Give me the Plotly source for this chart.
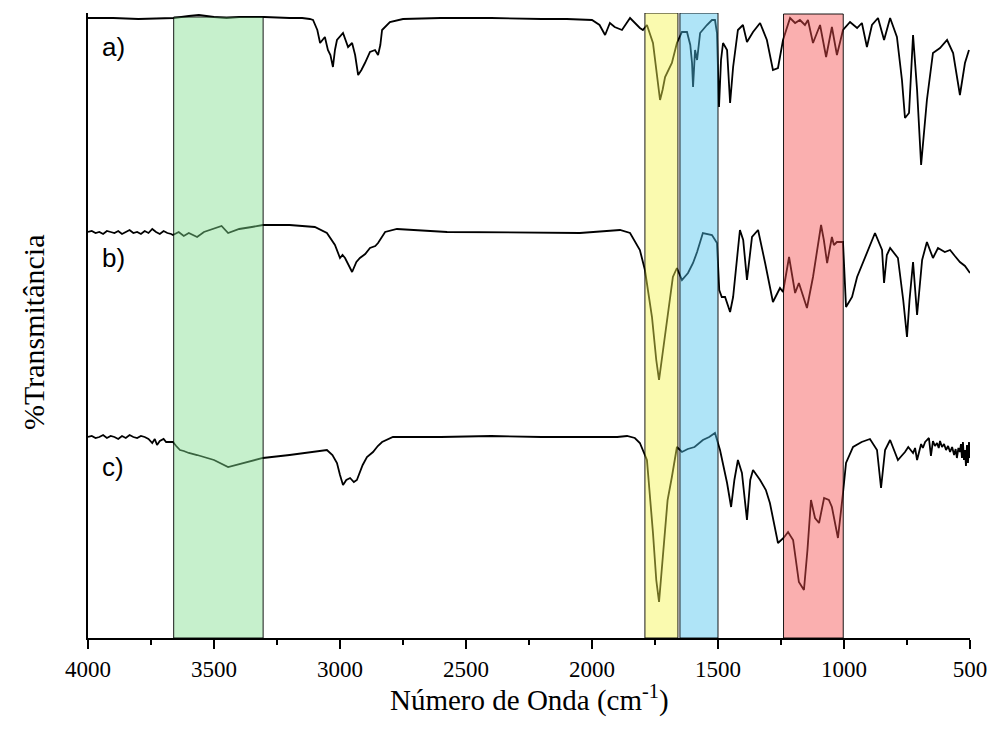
import plotly.graph_objects as go

# FTIR spectra (transmittance, offset per sample, arbitrary units)
wn_a = [4000, 3900, 3800, 3700, 3660, 3600, 3560, 3500, 3450, 3400, 3300, 3200, 3150, 3120,
        3107, 3090, 3079, 3060, 3048, 3038, 3028, 3020, 3012, 2988,
        2968, 2952, 2940, 2928, 2915, 2901, 2881, 2861, 2849, 2840,
        2833, 2802, 2750, 2600, 2400, 2200, 2100, 2000, 1970, 1948,
        1929, 1910, 1881, 1849, 1810, 1798, 1782, 1758, 1740, 1730,
        1720, 1710, 1683, 1663, 1643, 1623, 1610, 1603, 1599, 1591,
        1583, 1571, 1544, 1524, 1512, 1504, 1496, 1488, 1480, 1464,
        1452, 1440, 1421, 1401, 1385, 1361, 1333, 1306, 1282, 1262,
        1242, 1214, 1194, 1175, 1155, 1143, 1123, 1095, 1071, 1048,
        1028, 1004, 976, 948, 929, 909, 889, 865, 841, 817,
        790, 770, 758, 742, 726, 710, 694, 671, 647, 619,
        591, 567, 540, 520, 504]
t_a = [620, 620, 619, 620, 620, 622, 623, 621, 620, 621, 621, 620, 620, 619,
       618, 608, 595, 601, 588, 583, 571, 588, 598, 605,
       591, 595, 583, 563, 568, 575, 586, 588, 583, 593,
       608, 616, 619, 620, 620, 619, 619, 618, 613, 603,
       615, 611, 608, 620, 610, 608, 613, 595, 558, 538,
       548, 561, 575, 595, 606, 606, 593, 575, 551, 588,
       578, 605, 613, 618, 618, 605, 531, 578, 595, 588,
       535, 571, 608, 613, 596, 606, 615, 598, 568, 570,
       598, 620, 615, 618, 613, 618, 595, 613, 581, 611,
       583, 608, 616, 610, 615, 591, 613, 620, 598, 620,
       601, 558, 520, 525, 603, 548, 473, 538, 585, 590,
       598, 585, 543, 575, 588]

wn_b = [4000, 3985, 3970, 3955, 3940, 3925, 3910, 3895, 3880, 3865,
        3850, 3835, 3820, 3805, 3790, 3775, 3760, 3745, 3730, 3715,
        3700, 3685, 3670,
        3663, 3640, 3620, 3600, 3567, 3540, 3500, 3470, 3444, 3400,
        3350, 3306, 3200, 3100, 3052, 3020, 3000, 2990, 2980, 2965,
        2952, 2935, 2921, 2900, 2881, 2860, 2849, 2821, 2774, 2575,
        2048, 1889, 1849, 1810, 1790, 1762, 1745, 1734, 1720, 1702,
        1679, 1663, 1643, 1619, 1599, 1583, 1560, 1524, 1504, 1495,
        1485, 1472, 1452, 1440, 1425, 1413, 1400, 1385, 1365, 1341,
        1313, 1282, 1254, 1242, 1218, 1194, 1179, 1147, 1123, 1091,
        1080, 1067, 1048, 1040, 1028, 1004, 992, 968, 948, 917,
        877, 849, 841, 830, 817, 786, 765, 750, 740, 726,
        710, 690, 671, 647, 627, 600, 579, 560, 540, 520,
        500]
t_b = [406, 407, 405, 406, 404, 407, 406, 405, 407, 404,
       406, 408, 405, 406, 404, 407, 405, 409, 406, 404,
       407, 405, 404,
       403, 406, 402, 405, 401, 406, 409, 412, 405, 409,
       411, 413, 413, 411, 405, 393, 380, 383, 380, 372,
       366, 376, 380, 384, 390, 392, 395, 406, 409, 406,
       405, 408, 405, 388, 368, 321, 278, 258, 283, 318,
       361, 370, 358, 365, 375, 386, 405, 403, 395, 348,
       341, 341, 326, 341, 378, 408, 398, 358, 401, 408,
       375, 336, 350, 346, 381, 345, 355, 330, 361, 413,
       398, 375, 401, 393, 396, 396, 331, 341, 361, 380,
       405, 388, 355, 383, 390, 380, 338, 301, 338, 376,
       323, 378, 396, 380, 390, 386, 388, 382, 376, 372,
       365]

wn_c = [4000, 3985, 3970, 3955, 3940, 3925, 3910, 3895, 3880, 3865,
        3850, 3835, 3820, 3805, 3790, 3775, 3760,
        3745, 3735, 3726, 3715, 3700, 3690, 3663, 3650, 3635, 3620, 3600, 3567,
        3500, 3444, 3400, 3306, 3200, 3100, 3052, 3030, 3012, 3000,
        2988, 2975, 2960, 2945, 2933, 2910, 2893, 2869, 2850, 2833,
        2790, 2600, 2400, 2200, 2000, 1900, 1861, 1830, 1810, 1782,
        1758, 1745, 1734, 1725, 1712, 1700, 1683, 1663, 1643, 1620,
        1593, 1575, 1560, 1535, 1512, 1492, 1464, 1448, 1435, 1421,
        1405, 1385, 1372, 1361, 1333, 1310, 1294, 1262, 1240, 1222,
        1202, 1179, 1159, 1145, 1131, 1115, 1099, 1079, 1060, 1048,
        1024, 1004, 992, 964, 930, 897, 869, 853, 837,
        817, 800, 786, 772, 758, 745, 738, 726, 718, 710,
        702, 694, 687, 678, 671, 663, 655, 647, 639, 631,
        624, 619, 611, 603, 595, 587, 579, 571, 563, 557,
        552, 546, 540, 536, 532, 528, 524, 520, 516, 512,
        508, 504, 500]
t_c = [201, 202, 200, 201, 203, 200, 202, 201, 199, 202,
       200, 203, 201, 200, 202, 201, 199,
       195, 199, 193, 197, 199, 196, 196, 192, 188, 187, 185, 183,
       178, 171, 174, 180, 183, 186, 188, 183, 175, 163,
       153, 158, 160, 156, 158, 173, 181, 186, 192, 196,
       201, 201, 202, 201, 201, 201, 202, 200, 195, 178,
       105, 58, 36, 63, 105, 138, 161, 191, 186, 189,
       191, 195, 198, 201, 205, 188, 155, 131, 158, 178,
       165, 118, 158, 168, 158, 148, 135, 95, 100, 106,
       98, 56, 48, 88, 138, 120, 115, 140, 138, 131,
       100, 145, 175, 191, 196, 199, 188, 150, 188,
       198, 186, 178, 182, 186, 191, 189, 185, 190, 178,
       186, 194, 190, 196, 198, 200, 182, 197, 192, 195,
       190, 197, 191, 194, 188, 192, 186, 191, 183, 189,
       180, 190, 186, 194, 180, 196, 178, 188, 172, 193,
       175, 196, 180]

series_labels = ["a)", "b)", "c)"]
label_wn = [3900, 3900, 3900]
label_t = [591, 380, 171]

# highlighted absorption bands (cm-1)
band_start = [3660, 1790, 1651, 1240]
band_end = [3305, 1659, 1500, 1003]
band_top = [621, 625, 625, 624]
band_colors = ["rgba(129,222,142,0.45)", "rgba(244,244,78,0.45)",
               "rgba(78,196,238,0.45)", "rgba(244,78,78,0.45)"]

x_ticks = [4000, 3500, 3000, 2500, 2000, 1500, 1000, 500]
x_title = "Número de Onda (cm<sup>-1</sup>)"
y_title = "%Transmitância"

fig = go.Figure()
for wn, t in [(wn_a, t_a), (wn_b, t_b), (wn_c, t_c)]:
    fig.add_trace(go.Scatter(x=wn, y=t, mode="lines",
                             line=dict(color="black", width=1.8),
                             showlegend=False, hoverinfo="skip"))

for x0, x1, top, col in zip(band_start, band_end, band_top, band_colors):
    fig.add_shape(type="rect", xref="x", yref="y", x0=x0, x1=x1, y0=0, y1=top,
                  fillcolor=col, line=dict(color="rgba(0,0,0,0.9)", width=1),
                  layer="above")

for lab, x, y in zip(series_labels, label_wn, label_t):
    fig.add_annotation(x=x, y=y, text=lab, showarrow=False, xanchor="center",
                       font=dict(family="Liberation Sans", size=26, color="black"))

serif = "Liberation Serif"

# axis titles placed as paper-anchored text so they sit close to the axes
fig.add_annotation(xref="paper", yref="paper", x=0.5, y=-0.096, yanchor="middle",
                   text=x_title, showarrow=False,
                   font=dict(family=serif, size=29, color="black"))
fig.add_annotation(xref="paper", yref="paper", x=-0.062, y=0.49, xanchor="center",
                   yanchor="middle", textangle=-90, text=y_title, showarrow=False,
                   font=dict(family=serif, size=30, color="black"))

fig.update_layout(
    width=992, height=730,
    margin=dict(l=88, r=22, t=13, b=92),
    paper_bgcolor="white", plot_bgcolor="white",
    font=dict(family=serif, color="black"),
    xaxis=dict(range=[4000, 500], tickvals=x_ticks, ticks="outside", ticklen=9,
               tickwidth=2, tickcolor="black", showline=True, linewidth=2,
               linecolor="black", showgrid=False, zeroline=False, automargin=False,
               tickfont=dict(family=serif, size=23, color="black"),
               minor=dict(dtick=250, ticks="outside", ticklen=5, tickwidth=2,
                          tickcolor="black", showgrid=False)),
    yaxis=dict(range=[0, 625], showticklabels=False, ticks="", showline=True,
               linewidth=2, linecolor="black", showgrid=False, zeroline=False,
               automargin=False),
)

fig.write_html("out.html")
